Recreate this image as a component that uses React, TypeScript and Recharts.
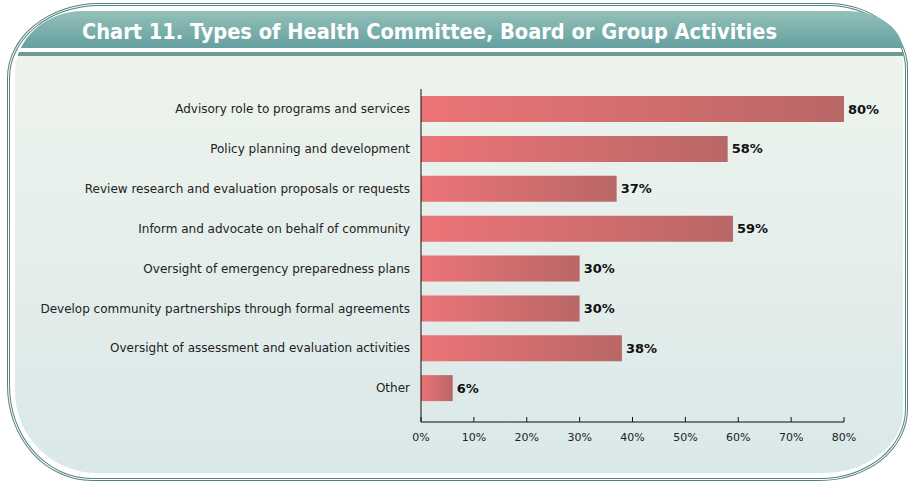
import React from 'react';
import { BarChart, Bar, XAxis, YAxis, LabelList } from 'recharts';

const categories = [
  'Advisory role to programs and services',
  'Policy planning and development',
  'Review research and evaluation proposals or requests',
  'Inform and advocate on behalf of community',
  'Oversight of emergency preparedness plans',
  'Develop community partnerships through formal agreements',
  'Oversight of assessment and evaluation activities',
  'Other',
];

const percents = [80, 58, 37, 59, 30, 30, 38, 6];

const xTicks = [0, 10, 20, 30, 40, 50, 60, 70, 80];

const title = 'Chart 11. Types of Health Committee, Board or Group Activities';

const data = categories.map((name, i) => ({ name, value: percents[i] }));

const FONT = '"DejaVu Sans", Verdana, sans-serif';

export default function App() {
  return (
    <div style={{ position: 'absolute', left: 0, top: 0, width: 908, height: 483, background: '#fff', fontFamily: FONT }}>
      {/* outer double border */}
      <div
        style={{
          position: 'absolute', left: 7, top: 3, width: 901, height: 478, boxSizing: 'border-box',
          border: '3px double #55817f',
          borderRadius: '92px 80px 88px 85px / 75px 65px 72px 95px',
        }}
      />
      {/* inner panel, clipped to the rounded shape */}
      <div
        style={{
          position: 'absolute', left: 15, top: 11, width: 888, height: 462, overflow: 'hidden',
          borderRadius: '68px 55px 80px 82px / 62px 40px 62px 82px',
        }}
      >
        <div style={{ position: 'absolute', left: 0, top: 0, width: 888, height: 37, background: 'linear-gradient(#94c0b9, #65a0a0)' }}>
          <svg width={888} height={37} style={{ position: 'absolute', left: 0, top: 0 }}>
            <text x={67} y={28} fill="#fff" fontSize={21} fontWeight="bold" fontFamily='"DejaVu Sans Condensed", "DejaVu Sans", sans-serif'
              textLength={695} lengthAdjust="spacingAndGlyphs">
              {title}
            </text>
          </svg>
        </div>
        <div style={{ position: 'absolute', left: 0, top: 41, width: 888, height: 4, background: '#6f9996' }} />
        <div style={{ position: 'absolute', left: 0, top: 45, width: 888, height: 417, background: 'linear-gradient(#eef4ed, #dae8e9)' }} />
      </div>

      <div style={{ position: 'absolute', left: 0, top: 0 }}>
        <BarChart width={908} height={483} data={data} layout="vertical" barSize={26}
          margin={{ top: 89, right: 64, bottom: 31, left: 0 }}>
          <defs>
            <linearGradient id="barFill" x1="0" y1="0" x2="1" y2="0">
              <stop offset="0" stopColor="#ec7477" />
              <stop offset="1" stopColor="#b96767" />
            </linearGradient>
          </defs>
          <XAxis type="number" domain={[0, 80]} ticks={xTicks} interval={0} height={30}
            tickFormatter={(v) => `${v}%`}
            axisLine={{ stroke: '#111' }} tickLine={{ stroke: '#111' }}
            tickSize={-5} tickMargin={16}
            tick={{ fontSize: 11, fill: '#222', fontFamily: FONT }} />
          <YAxis type="category" dataKey="name" width={421} interval={0}
            padding={{ top: 0, bottom: 14 }}
            axisLine={{ stroke: '#111' }} tickLine={false} tickSize={0} tickMargin={11}
            tick={{ fontSize: 12, fill: '#222', fontFamily: FONT }} />
          <Bar dataKey="value" fill="url(#barFill)" isAnimationActive={false}>
            <LabelList dataKey="value" position="right" offset={4}
              formatter={(v: number) => `${v}%`}
              style={{ fontSize: 13, fontWeight: 'bold', fill: '#111', fontFamily: FONT }} />
          </Bar>
        </BarChart>
      </div>
    </div>
  );
}
